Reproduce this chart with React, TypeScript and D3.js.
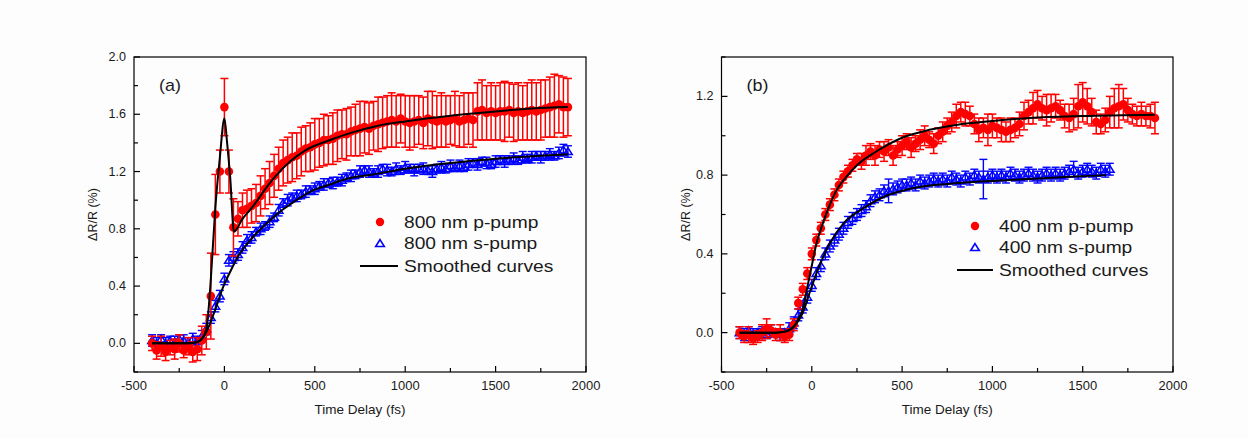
import React from "react";
import * as d3 from "d3";

// ---------- Panel (a) data: 800 nm ----------
const timesA = d3.range(-400, 1901, 25);
const redA = [
  0.0, -0.05, -0.02, -0.06, -0.03, -0.04, 0.0, -0.05, -0.02, -0.06, -0.04, 0.02, 0.08,
  0.33, 0.9, 1.2, 1.65, 1.2, 0.81, 0.87, 0.93, 0.94, 0.96, 0.98, 1.03, 1.08, 1.12, 1.17,
  1.22, 1.26, 1.28, 1.3, 1.31, 1.34, 1.36, 1.37, 1.39, 1.4, 1.42, 1.42, 1.43, 1.45, 1.46,
  1.46, 1.48, 1.49, 1.5, 1.51, 1.5, 1.52, 1.53, 1.54, 1.55, 1.56, 1.55, 1.57, 1.55, 1.54,
  1.55, 1.56, 1.54, 1.57, 1.56, 1.55, 1.56, 1.55, 1.56, 1.57, 1.55, 1.56, 1.57, 1.56,
  1.62, 1.63, 1.61, 1.62, 1.61, 1.62, 1.62, 1.63, 1.61, 1.62, 1.61, 1.62, 1.63, 1.62,
  1.63, 1.64, 1.65, 1.66, 1.67, 1.65, 1.65,
];
const redAErr = [
  0.05, 0.06, 0.07, 0.06, 0.05, 0.07, 0.06, 0.05, 0.06, 0.07, 0.08, 0.1, 0.12,
  0.3, 0.28, 0.15, 0.2, 0.15, 0.2, 0.12, 0.12, 0.13, 0.12, 0.13, 0.14, 0.14, 0.15, 0.15,
  0.15, 0.16, 0.16, 0.17, 0.16, 0.17, 0.16, 0.17, 0.18, 0.17, 0.18, 0.17, 0.18, 0.18, 0.17,
  0.18, 0.17, 0.18, 0.19, 0.18, 0.18, 0.17, 0.19, 0.18, 0.18, 0.19, 0.18, 0.17, 0.18, 0.19,
  0.18, 0.17, 0.18, 0.19, 0.2, 0.18, 0.19, 0.18, 0.17, 0.19, 0.18, 0.19, 0.18, 0.19,
  0.2, 0.21, 0.19, 0.2, 0.19, 0.2, 0.21, 0.19, 0.2, 0.2, 0.19, 0.2, 0.21, 0.2,
  0.21, 0.2, 0.21, 0.22, 0.2, 0.21, 0.2,
];
const blueA = [
  0.02, 0.0, 0.03, 0.0, 0.02, 0.01, 0.03, 0.02, 0.01, 0.03, 0.02, 0.05, 0.1,
  0.18, 0.26, 0.33, 0.45, 0.58, 0.6, 0.62, 0.67, 0.72, 0.74, 0.78, 0.8, 0.82, 0.85, 0.88,
  0.93, 0.98, 1.0, 1.02, 1.03, 1.04, 1.06, 1.07, 1.08, 1.1, 1.11, 1.12, 1.12, 1.13, 1.14,
  1.16, 1.17, 1.18, 1.2, 1.21, 1.2, 1.19, 1.2, 1.22, 1.21, 1.2, 1.22, 1.21, 1.23, 1.22,
  1.21, 1.22, 1.22, 1.21, 1.2, 1.22, 1.23, 1.22, 1.24, 1.23, 1.24, 1.23, 1.25, 1.26,
  1.25, 1.27, 1.26, 1.25, 1.27, 1.28, 1.27, 1.28, 1.29, 1.28, 1.3, 1.29, 1.3, 1.31,
  1.3, 1.31, 1.32, 1.31, 1.33, 1.35, 1.34,
];
const blueAErr = [
  0.04, 0.04, 0.03, 0.04, 0.03, 0.04, 0.03, 0.04, 0.03, 0.04, 0.03, 0.04, 0.04,
  0.04, 0.04, 0.04, 0.04, 0.04, 0.04, 0.04, 0.04, 0.04, 0.04, 0.03, 0.04, 0.03, 0.04, 0.03,
  0.04, 0.03, 0.04, 0.03, 0.04, 0.03, 0.04, 0.03, 0.04, 0.03, 0.04, 0.03, 0.04, 0.03, 0.04,
  0.03, 0.04, 0.03, 0.04, 0.03, 0.04, 0.03, 0.04, 0.03, 0.04, 0.03, 0.04, 0.03, 0.04, 0.03,
  0.04, 0.03, 0.04, 0.03, 0.04, 0.03, 0.04, 0.03, 0.04, 0.03, 0.04, 0.03, 0.04, 0.03,
  0.04, 0.03, 0.04, 0.03, 0.04, 0.03, 0.04, 0.03, 0.04, 0.03, 0.04, 0.03, 0.04, 0.03,
  0.04, 0.03, 0.04, 0.03, 0.04, 0.04, 0.04,
];
const smoothRedATimes = [-400, -300, -200, -150, -125, -100, -88, -75, -50, -25, 0, 15, 32, 53, 100, 160, 216, 271, 363, 450, 584, 700, 850, 1000, 1250, 1500, 1700, 1900];
const smoothRedAVals = [0, 0, 0, 0.01, 0.03, 0.1, 0.23, 0.45, 0.95, 1.3, 1.57, 1.4, 1.16, 0.78, 0.87, 0.96, 1.06, 1.15, 1.27, 1.35, 1.42, 1.47, 1.52, 1.55, 1.59, 1.62, 1.64, 1.65];
const smoothBlueATimes = [-400, -200, -150, -100, -61, -5, 32, 77, 142, 253, 308, 363, 492, 584, 677, 824, 1000, 1250, 1500, 1750, 1900];
const smoothBlueAVals = [0, 0, 0.01, 0.08, 0.2, 0.4, 0.5, 0.61, 0.72, 0.86, 0.92, 0.97, 1.07, 1.11, 1.15, 1.18, 1.22, 1.26, 1.29, 1.31, 1.32];

// ---------- Panel (b) data: 400 nm ----------
const timesBRed = d3.range(-400, 1901, 25);
const redB = [
  0.0, -0.02, -0.01, -0.03, -0.02, 0.0, 0.02, 0.01, -0.01, 0.0, -0.02, -0.01, 0.04,
  0.15, 0.22, 0.3, 0.4, 0.47, 0.53, 0.6, 0.65, 0.7, 0.75, 0.79, 0.82, 0.85, 0.88, 0.87,
  0.9, 0.92, 0.9, 0.93, 0.92, 0.94, 0.9, 0.93, 0.95, 0.97, 0.94, 0.96, 0.98, 1.0, 0.98,
  0.96, 1.0, 1.02, 1.05, 1.07, 1.1, 1.12, 1.11, 1.1, 1.06, 1.03, 1.04, 1.03, 1.05, 1.04,
  1.03, 1.02, 1.03, 1.04, 1.06, 1.1, 1.12, 1.14, 1.16, 1.14, 1.13, 1.14, 1.15, 1.13,
  1.1, 1.09, 1.11, 1.15, 1.17, 1.15, 1.12, 1.07, 1.06, 1.08, 1.12, 1.14, 1.15, 1.16,
  1.13, 1.11, 1.1, 1.11, 1.1, 1.1, 1.09,
];
const redBErr = [
  0.03, 0.03, 0.04, 0.03, 0.03, 0.04, 0.05, 0.03, 0.03, 0.04, 0.03, 0.03, 0.03,
  0.03, 0.03, 0.03, 0.03, 0.03, 0.03, 0.03, 0.03, 0.03, 0.03, 0.03, 0.03, 0.03, 0.03, 0.04,
  0.05, 0.04, 0.05, 0.04, 0.05, 0.04, 0.05, 0.04, 0.05, 0.04, 0.05, 0.04, 0.05, 0.05, 0.04,
  0.05, 0.04, 0.05, 0.04, 0.05, 0.06, 0.05, 0.06, 0.05, 0.05, 0.06, 0.05, 0.08, 0.06, 0.05,
  0.06, 0.05, 0.06, 0.05, 0.06, 0.07, 0.06, 0.08, 0.07, 0.06, 0.08, 0.07, 0.06, 0.05,
  0.06, 0.07, 0.08, 0.11, 0.1, 0.09, 0.07, 0.06, 0.05, 0.06, 0.08, 0.1, 0.11, 0.08,
  0.06, 0.05, 0.05, 0.06, 0.05, 0.06, 0.08,
];
const timesBBlue = d3.range(-400, 1651, 25);
const blueB = [
  0.0, -0.01, 0.01, -0.01, 0.0, 0.0, -0.01, 0.01, 0.0, -0.01, 0.0, 0.02, 0.05,
  0.09, 0.13, 0.18, 0.24, 0.3, 0.34, 0.4, 0.44, 0.47, 0.5, 0.53, 0.56, 0.58, 0.6, 0.62,
  0.64, 0.67, 0.69, 0.7, 0.72, 0.72, 0.73, 0.74, 0.75, 0.75, 0.76, 0.75, 0.77, 0.76, 0.77,
  0.78, 0.77, 0.78, 0.77, 0.79, 0.78, 0.77, 0.79, 0.78, 0.8, 0.79, 0.78, 0.79, 0.8, 0.79,
  0.8, 0.79, 0.81, 0.8, 0.79, 0.8, 0.81, 0.8, 0.79, 0.8, 0.81, 0.8, 0.81, 0.8,
  0.81, 0.82, 0.83, 0.81, 0.82, 0.83, 0.82, 0.81, 0.83, 0.82, 0.83,
];
const blueBErr = [
  0.03, 0.03, 0.02, 0.03, 0.02, 0.03, 0.02, 0.03, 0.02, 0.03, 0.02, 0.03, 0.03,
  0.03, 0.03, 0.03, 0.03, 0.03, 0.03, 0.03, 0.03, 0.03, 0.03, 0.03, 0.03, 0.03, 0.03, 0.03,
  0.03, 0.03, 0.03, 0.03, 0.03, 0.06, 0.03, 0.03, 0.03, 0.03, 0.03, 0.03, 0.03, 0.03, 0.03,
  0.03, 0.03, 0.03, 0.03, 0.03, 0.03, 0.03, 0.03, 0.03, 0.03, 0.03, 0.1, 0.03, 0.03, 0.03,
  0.03, 0.03, 0.03, 0.03, 0.03, 0.03, 0.03, 0.03, 0.03, 0.03, 0.03, 0.03, 0.03, 0.03,
  0.03, 0.03, 0.04, 0.03, 0.03, 0.03, 0.03, 0.03, 0.03, 0.03, 0.03,
];
const smoothRedBTimes = [-400, -200, -150, -100, -75, -50, -25, 0, 25, 61, 100, 135, 190, 250, 357, 500, 651, 800, 1000, 1206, 1500, 1900];
const smoothRedBVals = [0, 0, 0.005, 0.03, 0.07, 0.12, 0.23, 0.34, 0.45, 0.555, 0.65, 0.72, 0.79, 0.85, 0.92, 0.99, 1.03, 1.055, 1.075, 1.09, 1.1, 1.107];
const smoothBlueBTimes = [-400, -200, -150, -100, -50, -13, 25, 98, 180, 282, 400, 559, 750, 928, 1200, 1400, 1630];
const smoothBlueBVals = [0, 0, 0.005, 0.03, 0.1, 0.2, 0.3, 0.45, 0.56, 0.63, 0.69, 0.733, 0.755, 0.767, 0.78, 0.79, 0.8];

// ---------- Axis labels ----------
const xTicks = [-500, 0, 500, 1000, 1500, 2000];
const yTicksA = [0, 0.4, 0.8, 1.2, 1.6, 2.0];
const yTicksB = [0, 0.4, 0.8, 1.2];
const legendA = ["800 nm p-pump", "800 nm s-pump", "Smoothed curves"];
const legendB = ["400 nm p-pump", "400 nm s-pump", "Smoothed curves"];

const RED = "#ff0000";
const BLUE = "#0000ff";
const FONT = "Arial, 'Liberation Sans', sans-serif";

type Series = { t: number[]; v: number[]; e: number[] };

function SText(props: { x: number; y: number; sx: number; size: number; anchor?: string; children: React.ReactNode }) {
  return (
    <text
      transform={`translate(${props.x},${props.y}) scale(${props.sx},1)`}
      textAnchor={props.anchor || "start"}
      fontSize={props.size}
      fontFamily={FONT}
      fill="#1a1a1a"
    >
      {props.children}
    </text>
  );
}

function Panel(props: {
  x0: number; x1: number; y0: number; y1: number;
  yDomain: [number, number]; yTicks: number[];
  red: Series; blue: Series;
  smooth: { t: number[]; v: number[] }[];
  label: string; legend: string[];
  leg: { dotX: number; lineX0: number; lineX1: number; textX: number; y: number };
  yTitleX: number;
}) {
  const { x0, x1, y0, y1 } = props;
  const x = d3.scaleLinear().domain([-500, 2000]).range([x0, x1]);
  const y = d3.scaleLinear().domain(props.yDomain).range([y1, y0]);
  const line = d3.line<[number, number]>().x((d) => x(d[0])).y((d) => y(d[1])).curve(d3.curveMonotoneX);
  const xMinor = d3.range(-250, 2000, 500);
  const yMinor = d3.range(props.yDomain[0], props.yDomain[1] + 0.001, 0.2).filter(
    (v) => !props.yTicks.some((t) => Math.abs(t - v) < 1e-6)
  );
  const fmt = d3.format(".1f");
  const cap = 4;
  const tri = (cx: number, cy: number, s: number) =>
    `M${cx},${cy - s * 0.9} L${cx + s},${cy + s * 0.7} L${cx - s},${cy + s * 0.7} Z`;
  const errBars = (s: Series, color: string, w: number) =>
    s.t.map((t, i) => {
      const cx = x(t);
      const top = y(s.v[i] + s.e[i]);
      const bot = y(s.v[i] - s.e[i]);
      return (
        <g key={i} stroke={color} strokeWidth={w}>
          <line x1={cx} x2={cx} y1={top} y2={bot} />
          <line x1={cx - cap} x2={cx + cap} y1={top} y2={top} />
          <line x1={cx - cap} x2={cx + cap} y1={bot} y2={bot} />
        </g>
      );
    });
  const midY = (y0 + y1) / 2;
  return (
    <g>
      {/* data */}
      {errBars(props.blue, BLUE, 1.4)}
      {props.blue.t.map((t, i) => (
        <path key={i} d={tri(x(t), y(props.blue.v[i]), 4.3)} fill="none" stroke={BLUE} strokeWidth={1.5} />
      ))}
      {errBars(props.red, RED, 1.5)}
      {props.red.t.map((t, i) => (
        <circle key={i} cx={x(t)} cy={y(props.red.v[i])} r={4.3} fill={RED} />
      ))}
      {props.smooth.map((s, k) => (
        <path key={k} d={line(s.t.map((t, i) => [t, s.v[i]] as [number, number])) || ""} fill="none" stroke="#000" strokeWidth={2} />
      ))}
      {/* frame */}
      <rect x={x0} y={y0} width={x1 - x0} height={y1 - y0} fill="none" stroke="#000" strokeWidth={1.2} />
      {/* x ticks */}
      {xTicks.map((t) => (
        <g key={t}>
          <line x1={x(t)} x2={x(t)} y1={y1} y2={y1 - 6} stroke="#000" strokeWidth={1.2} />
          <SText x={x(t)} y={389.5} sx={1.08} size={12} anchor="middle">{t}</SText>
        </g>
      ))}
      {xMinor.map((t) => (
        <line key={t} x1={x(t)} x2={x(t)} y1={y1} y2={y1 - 4} stroke="#000" strokeWidth={1.2} />
      ))}
      {/* y ticks */}
      {props.yTicks.map((v) => (
        <g key={v}>
          <line x1={x0} x2={x0 + 6} y1={y(v)} y2={y(v)} stroke="#000" strokeWidth={1.2} />
          <SText x={x0 - 8} y={y(v) + 4} sx={1.05} size={12} anchor="end">{fmt(v)}</SText>
        </g>
      ))}
      {yMinor.map((v) => (
        <line key={v} x1={x0} x2={x0 + 4} y1={y(v)} y2={y(v)} stroke="#000" strokeWidth={1.2} />
      ))}
      {/* titles */}
      <SText x={(x0 + x1) / 2} y={414} sx={1.08} size={12.5} anchor="middle">Time Delay (fs)</SText>
      <text transform={`translate(${props.yTitleX},${midY}) rotate(-90)`} textAnchor="middle" fontSize={12.5} fontFamily={FONT} fill="#1a1a1a">ΔR/R (%)</text>
      <SText x={x0 + 25} y={91} sx={1.12} size={16}>{props.label}</SText>
      {/* legend */}
      <circle cx={props.leg.dotX} cy={props.leg.y} r={4.2} fill={RED} />
      <SText x={props.leg.textX} y={props.leg.y + 5.5} sx={1.2} size={16}>{props.legend[0]}</SText>
      <path d={tri(props.leg.dotX, props.leg.y + 21.5, 4.3)} fill="none" stroke={BLUE} strokeWidth={1.6} />
      <SText x={props.leg.textX} y={props.leg.y + 27} sx={1.2} size={16}>{props.legend[1]}</SText>
      <line x1={props.leg.lineX0} x2={props.leg.lineX1} y1={props.leg.y + 44} y2={props.leg.y + 44} stroke="#000" strokeWidth={2} />
      <SText x={props.leg.textX} y={props.leg.y + 49.5} sx={1.2} size={16}>{props.legend[2]}</SText>
    </g>
  );
}

export default function App() {
  return (
    <svg width={1248} height={438} style={{ position: "absolute", left: 0, top: 0, background: "#fdfdfd" }}>
      <rect x={0} y={0} width={1248} height={438} fill="#fdfdfd" />
      <Panel
        x0={134} x1={586} y0={57} y1={372}
        yDomain={[-0.2, 2.0]} yTicks={yTicksA}
        red={{ t: timesA, v: redA, e: redAErr }}
        blue={{ t: timesA, v: blueA, e: blueAErr }}
        smooth={[{ t: smoothRedATimes, v: smoothRedAVals }, { t: smoothBlueATimes, v: smoothBlueAVals }]}
        label="(a)" legend={legendA}
        leg={{ dotX: 380, lineX0: 360, lineX1: 398, textX: 404, y: 222 }}
        yTitleX={97}
      />
      <Panel
        x0={721.5} x1={1173} y0={57} y1={372}
        yDomain={[-0.2, 1.4]} yTicks={yTicksB}
        red={{ t: timesBRed, v: redB, e: redBErr }}
        blue={{ t: timesBBlue, v: blueB, e: blueBErr }}
        smooth={[{ t: smoothRedBTimes, v: smoothRedBVals }, { t: smoothBlueBTimes, v: smoothBlueBVals }]}
        label="(b)" legend={legendB}
        leg={{ dotX: 975, lineX0: 957, lineX1: 993, textX: 999, y: 226 }}
        yTitleX={690}
      />
    </svg>
  );
}
